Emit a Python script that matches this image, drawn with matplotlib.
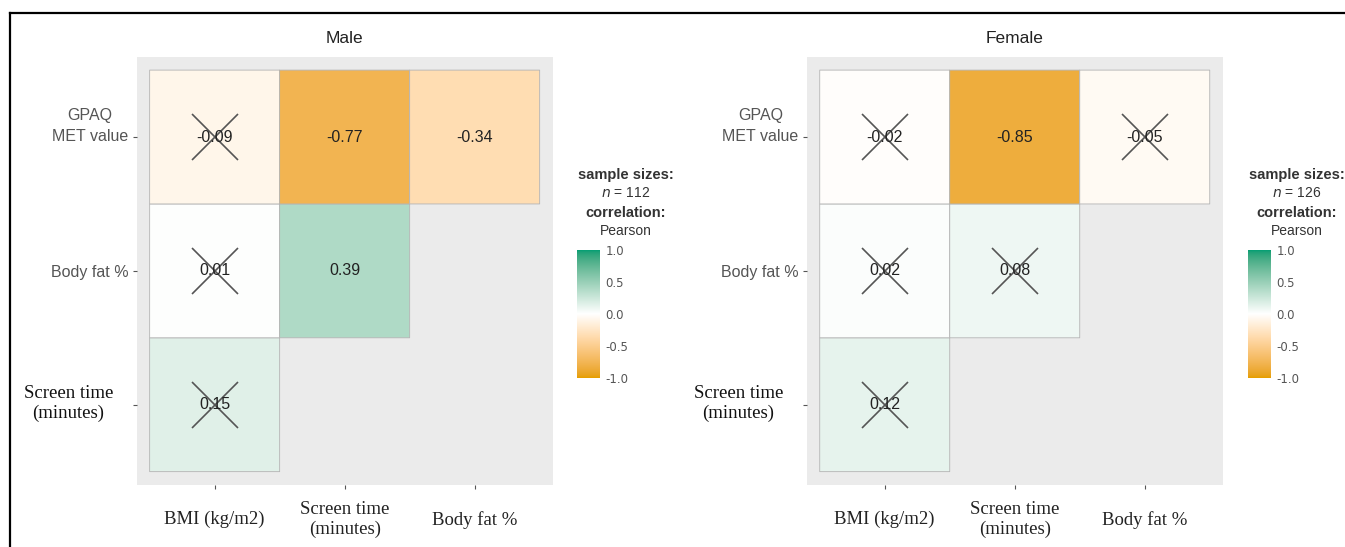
import matplotlib
matplotlib.use("Agg")
import matplotlib.pyplot as plt
import numpy as np
from matplotlib.colors import ListedColormap, to_rgb
from matplotlib.lines import Line2D
from matplotlib.transforms import ScaledTranslation

# columns (x) and rows (y, top to bottom)
x_labels = ["BMI (kg/m2)", "Screen time\n(minutes)", "Body fat %"]
y_labels = ["GPAQ\nMET value", "Body fat %", "Screen time\n(minutes)"]

male_r = [
    [-0.09, -0.77, -0.34],
    [0.01, 0.39, np.nan],
    [0.15, np.nan, np.nan],
]
male_sig = [
    [False, True, True],
    [False, True, False],
    [False, False, False],
]
female_r = [
    [-0.02, -0.85, -0.05],
    [0.02, 0.08, np.nan],
    [0.12, np.nan, np.nan],
]
female_sig = [
    [False, True, False],
    [False, False, False],
    [False, False, False],
]
panels = [("Male", 112, male_r, male_sig), ("Female", 126, female_r, female_sig)]

SANS = "Liberation Sans"
SERIF = "Liberation Serif"
PANEL_BG = "#EBEBEB"

# ggplot-like gradient: interpolate in CIELAB
_M = np.array([[0.4124, 0.3576, 0.1805],
               [0.2126, 0.7152, 0.0722],
               [0.0193, 0.1192, 0.9505]])
_WHITE = np.array([0.95047, 1.0, 1.08883])


def to_lab(c):
    c = np.array(to_rgb(c))
    lin = np.where(c <= 0.04045, c / 12.92, ((c + 0.055) / 1.055) ** 2.4)
    xyz = _M @ lin / _WHITE
    f = np.where(xyz > 0.008856, np.cbrt(xyz), 7.787 * xyz + 16 / 116)
    return np.array([116 * f[1] - 16, 500 * (f[0] - f[1]), 200 * (f[1] - f[2])])


def from_lab(lab):
    fy = (lab[0] + 16) / 116
    f = np.array([fy + lab[1] / 500, fy, fy - lab[2] / 200])
    xyz = np.where(f ** 3 > 0.008856, f ** 3, (f - 16 / 116) / 7.787) * _WHITE
    lin = np.linalg.solve(_M, xyz)
    c = np.where(lin <= 0.0031308, 12.92 * lin, 1.055 * np.clip(lin, 0, None) ** (1 / 2.4) - 0.055)
    return np.clip(c, 0, 1)


def lab_cmap(low, mid, high, n=256):
    a, b, c = to_lab(low), to_lab(mid), to_lab(high)
    cols = []
    for t in np.linspace(0, 1, n):
        if t < 0.5:
            lab = a + (b - a) * (t / 0.5)
        else:
            lab = b + (c - b) * ((t - 0.5) / 0.5)
        cols.append(from_lab(lab))
    return ListedColormap(cols)


cmap = lab_cmap("#E69F00", "white", "#009E73")

fig = plt.figure(figsize=(13.45, 5.47), dpi=100)

ax_left = [0.1016, 0.5998]
cb_left = [0.429, 0.928]
legend_x = [0.4654, 0.9643]

for k, (name, n, r, sig) in enumerate(panels):
    ax = fig.add_axes([ax_left[k], 0.1133, 0.3093, 0.783])
    ax.set_facecolor(PANEL_BG)
    vals = np.array(r, dtype=float)[::-1]  # row 0 = bottom
    edges_x = np.arange(len(x_labels) + 1) + 0.5
    edges_y = np.arange(len(y_labels) + 1) + 0.5
    ax.pcolor(edges_x, edges_y, np.ma.masked_invalid(vals), cmap=cmap,
              vmin=-1, vmax=1, edgecolor="#B4B4B4", linewidth=0.6)
    sig_arr = np.array(sig)[::-1]
    for i in range(vals.shape[0]):
        for j in range(vals.shape[1]):
            v = vals[i, j]
            if np.isnan(v):
                continue
            ax.text(j + 1, i + 1, f"{v:.2f}", ha="center", va="center",
                    fontsize=11.5, family=SANS, color="#222222")
            if not sig_arr[i, j]:
                ax.plot(j + 1, i + 1, marker="x", markersize=33,
                        markeredgewidth=1.2, color="#555555")
    ax.set_xlim(0.4, 3.6)
    ax.set_ylim(0.4, 3.6)
    for s in ax.spines.values():
        s.set_visible(False)

    ax.set_xticks(range(1, len(x_labels) + 1))
    ax.set_xticklabels(x_labels, family=SERIF, fontsize=13.5, color="#222222",
                       va="center", multialignment="center")
    ax.set_yticks(range(len(y_labels), 0, -1))
    ax.set_yticklabels(y_labels, fontsize=11.5, family=SANS, color="#555555",
                       multialignment="center", linespacing=1.55)
    ax.tick_params(axis="x", length=3, color="#555555", pad=22)
    ax.tick_params(axis="y", length=3, color="#555555", pad=3)
    ylabs = ax.get_yticklabels()
    ylabs[0].set_transform(ylabs[0].get_transform()
                           + ScaledTranslation(0, 11.3 / 72, fig.dpi_scale_trans))
    ylabs[2].set_family(SERIF)
    ylabs[2].set_fontsize(13.5)
    ylabs[2].set_color("#111111")
    ylabs[2].set_linespacing(1.2)
    ylabs[2].set_transform(ylabs[2].get_transform()
                           + ScaledTranslation(-11 / 72, 3 / 72, fig.dpi_scale_trans))
    ax.set_title(name, fontsize=12.5, family=SANS, color="#222222", pad=10)

    # legend block
    lx = legend_x[k]
    fig.text(lx, 1 - 175 / 547, "sample sizes:", ha="center", va="center",
             fontsize=10.5, weight="bold", family=SANS, color="#333333")
    fig.text(lx, 1 - 193 / 547, f"$n$ = {n}", ha="center", va="center",
             fontsize=10, family=SANS, color="#333333")
    fig.text(lx, 1 - 213 / 547, "correlation:", ha="center", va="center",
             fontsize=10.5, weight="bold", family=SANS, color="#333333")
    fig.text(lx, 1 - 231 / 547, "Pearson", ha="center", va="center",
             fontsize=10, family=SANS, color="#333333")
    cax = fig.add_axes([cb_left[k], 0.309, 0.0171, 0.234])
    sm = plt.cm.ScalarMappable(cmap=cmap, norm=plt.Normalize(-1, 1))
    cb = fig.colorbar(sm, cax=cax, ticks=[-1.0, -0.5, 0.0, 0.5, 1.0])
    cb.outline.set_visible(False)
    cb.ax.set_yticklabels(["-1.0", "-0.5", "0.0", "0.5", "1.0"])
    cb.ax.tick_params(length=0, labelsize=8.5, colors="#555555", pad=4)

# frame lines of the original screenshot
fig.add_artist(Line2D([10 / 1345, 1], [1 - 13 / 547] * 2, color="black", lw=1.6))
fig.add_artist(Line2D([10 / 1345] * 2, [0, 1 - 13 / 547], color="black", lw=1.6))

fig.savefig("out.png", dpi=100)
